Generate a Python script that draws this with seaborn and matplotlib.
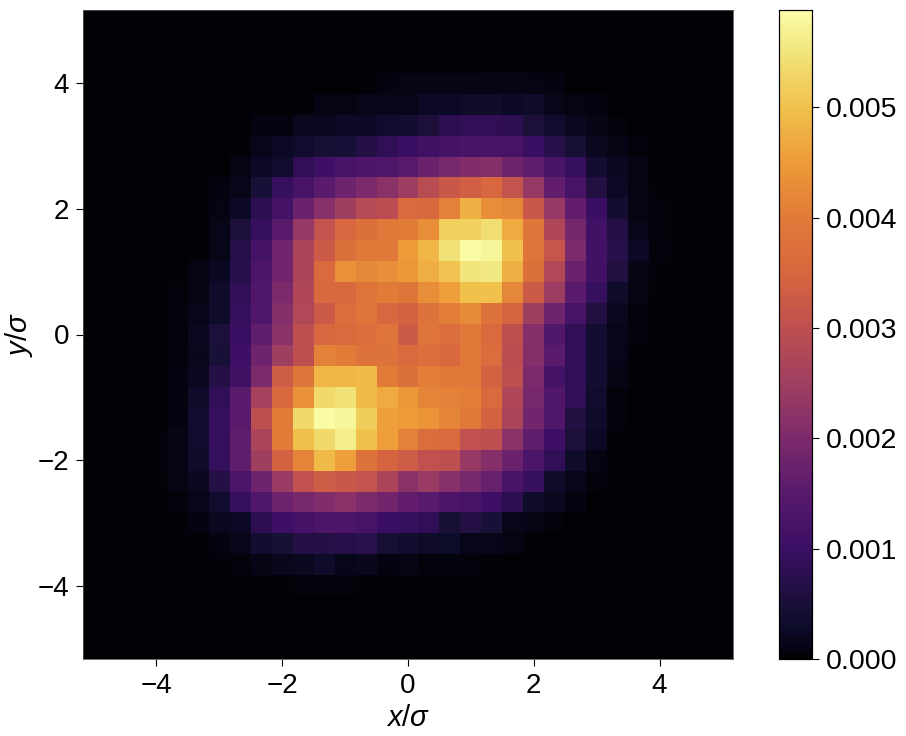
import numpy as np
import pandas as pd
import matplotlib
matplotlib.use('Agg')
import matplotlib.pyplot as plt
import seaborn as sns
from matplotlib.colors import LinearSegmentedColormap

# density per cell in units of 1e-3, rows listed from top (y=+5.17) to bottom
row_00 = [0]*31
row_01 = [0]*31
row_02 = [0]*19 + [.03, .03] + [0]*10
row_03 = [0]*14 + [.08, .12, .12, .12, .12, .12, .12, .1, .08] + [0]*8
row_04 = [0]*10 + [.03, .1, .1, .15, .15, .15, .25, .25, .3, .3, .25, .3, .15, .1, .08] + [0]*6
row_05 = [0]*8 + [.08, .08, .2, .2, .25, .25, .35, .4, .55, .8, .85, .85, .8, .55, .35, .2, .12, .06] + [0]*5
row_06 = [0]*7 + [.03, .15, .25, .35, .45, .5, .65, .85, 1.0, 1.1, 1.15, 1.25, 1.25, 1.2, 1.0, .7, .45, .2, .12, .05] + [0]*4
row_07 = [0]*7 + [.12, .25, .35, .85, 1.05, 1.25, 1.3, 1.35, 1.5, 1.75, 1.95, 2.05, 2.1, 1.8, 1.6, 1.25, .95, .4, .2, .1] + [0]*4
row_08 = [0]*6 + [.08, .15, .5, .95, 1.2, 1.55, 1.8, 2.0, 2.2, 2.45, 2.9, 3.2, 3.35, 3.5, 3.1, 2.35, 1.65, 1.2, .6, .25, .1, .04] + [0]*3
row_09 = [0]*6 + [.1, .25, .8, 1.15, 1.75, 2.15, 2.5, 2.85, 2.95, 3.6, 3.55, 4.1, 4.8, 4.3, 4.2, 3.2, 2.35, 1.65, 1.0, .4, .1, .05] + [0]*3
row_10 = [0]*5 + [.04, .15, .55, .95, 1.55, 2.35, 3.1, 3.5, 3.75, 3.95, 4.0, 4.3, 5.2, 5.2, 5.4, 4.7, 3.9, 2.75, 1.9, 1.1, .65, .15, .05] + [0]*3
row_11 = [0]*5 + [.04, .15, .7, 1.15, 1.85, 2.65, 3.25, 3.75, 3.95, 3.95, 4.5, 4.85, 5.45, 5.85, 5.75, 5.0, 3.85, 3.15, 2.0, 1.1, .7, .25, .05, .03] + [0]*2
row_12 = [0]*4 + [.02, .1, .22, .7, 1.3, 1.85, 2.7, 3.6, 4.35, 4.2, 4.3, 4.45, 4.75, 5.05, 5.5, 5.55, 4.75, 3.75, 2.8, 1.75, 1.1, .6, .12, .04] + [0]*3
row_13 = [0]*4 + [.05, .1, .3, .85, 1.35, 2.0, 2.75, 3.55, 3.55, 3.85, 4.0, 3.9, 4.3, 4.55, 5.0, 5.0, 4.2, 3.25, 2.45, 1.55, .95, .3, .1, .03] + [0]*3
row_14 = [0]*4 + [.06, .15, .3, .95, 1.35, 2.1, 2.8, 3.25, 3.65, 3.85, 3.5, 3.4, 3.8, 4.05, 4.25, 3.8, 3.45, 2.5, 1.8, 1.2, .6, .2, .06] + [0]*4
row_15 = [0]*4 + [.06, .2, .55, 1.0, 1.6, 2.2, 3.0, 3.5, 3.6, 3.7, 3.85, 3.25, 3.85, 3.7, 3.95, 3.6, 3.0, 2.1, 1.4, .85, .4, .15, .05] + [0]*4
row_16 = [0]*3 + [.03, .06, .18, .5, 1.05, 1.8, 2.5, 3.0, 4.1, 4.0, 3.8, 3.8, 3.6, 3.7, 3.55, 3.95, 3.65, 2.95, 2.1, 1.55, .85, .4, .15, .03] + [0]*4
row_17 = [0]*3 + [.03, .07, .2, .65, 1.1, 2.0, 3.3, 3.9, 4.85, 4.85, 4.9, 4.0, 3.75, 4.05, 3.95, 3.95, 3.4, 3.0, 2.0, 1.15, .85, .4, .12, .03] + [0]*4
row_18 = [0]*3 + [.04, .08, .3, .85, 1.55, 2.6, 3.55, 4.35, 5.35, 5.45, 4.9, 4.7, 4.45, 4.15, 4.1, 4.05, 3.6, 2.75, 1.95, 1.35, .85, .35, .05] + [0]*5
row_19 = [0]*3 + [.04, .08, .35, .95, 1.55, 3.0, 4.0, 5.35, 5.85, 5.75, 5.15, 4.55, 4.5, 4.4, 4.15, 3.95, 3.4, 2.65, 1.85, 1.4, .6, .3, .05] + [0]*5
row_20 = [0]*2 + [.01, .04, .12, .35, .95, 1.6, 2.7, 4.0, 5.0, 5.35, 5.65, 5.0, 4.55, 4.1, 3.65, 3.6, 3.05, 3.0, 2.2, 1.6, 1.05, .55, .25, .04] + [0]*5
row_21 = [0]*2 + [.01, .04, .12, .3, .9, 1.6, 2.5, 3.4, 4.15, 4.9, 4.55, 3.8, 3.45, 3.3, 3.05, 3.0, 2.35, 2.1, 1.75, 1.3, .85, .3, .1] + [0]*6
row_22 = [0]*3 + [.03, .1, .2, .65, 1.3, 1.8, 2.4, 3.05, 3.3, 3.2, 3.1, 2.7, 2.2, 2.4, 2.15, 1.95, 1.7, 1.25, .95, .3, .15, .05] + [0]*6
row_23 = [0]*3 + [.02, .06, .15, .35, .95, 1.35, 1.8, 1.95, 2.05, 2.2, 2.0, 1.85, 1.65, 1.5, 1.3, 1.25, 1.05, .8, .3, .2, .08] + [0]*7
row_24 = [0]*4 + [.04, .07, .2, .25, .8, 1.05, 1.15, 1.3, 1.3, 1.2, 1.0, .95, .85, .45, .65, .5, .15, .12, .06, .02] + [0]*7
row_25 = [0]*5 + [.04, .08, .15, .4, .45, .65, .65, .7, .75, .45, .38, .3, .28, .15, .15, .1] + [0]*10
row_26 = [0]*5 + [.01, .03, .05, .12, .18, .2, .3, .15, .18, .08, .13, .06, .05, .05, .03] + [0]*11
row_27 = [0]*8 + [.04, .04, .06, .05, .06, .04, .02, .03] + [0]*15
row_28 = [0]*10 + [.02] + [0]*20
row_29 = [0]*31
row_30 = [0]*31

rows = [row_00, row_01, row_02, row_03, row_04, row_05, row_06, row_07, row_08, row_09,
        row_10, row_11, row_12, row_13, row_14, row_15, row_16, row_17, row_18, row_19,
        row_20, row_21, row_22, row_23, row_24, row_25, row_26, row_27, row_28, row_29, row_30]
x_ticks = [-4, -2, 0, 2, 4]
y_ticks = [-4, -2, 0, 2, 4]
cbar_ticks = [0, 0.001, 0.002, 0.003, 0.004, 0.005]
half_width = 5.167
vmax = 0.00588

# colours sampled off the reference colorbar (inferno, slightly muted)
cbar_values = [0, 0.25, 0.5, 1.0, 1.5, 2.0, 2.5, 3.0, 3.5, 4.0, 4.5, 5.0, 5.5, 5.88]
cbar_colors = ['#010106', '#0c0a28', '#1a1038', '#3b0f64', '#581a6c', '#7d2a6c', '#a03f60', '#be4f50',
               '#d8663f', '#e07a38', '#ed9a38', '#f1c14c', '#f1e47a', '#fafda8']

cmap = LinearSegmentedColormap.from_list(
    'muted_inferno', [(v / cbar_values[-1], c) for v, c in zip(cbar_values, cbar_colors)], N=256)

df = pd.DataFrame(np.array(rows) * 1e-3)

plt.rcParams['font.family'] = ['Liberation Sans', 'DejaVu Sans']
plt.rcParams['mathtext.fontset'] = 'custom'
plt.rcParams['mathtext.it'] = 'Liberation Sans:italic'
plt.rcParams['mathtext.rm'] = 'Liberation Sans'

fig = plt.figure(figsize=(9.06, 7.36), dpi=100)
ax = fig.add_axes([83/906, 1 - 659/736, 650/906, 649/736])
cax = fig.add_axes([779/906, 1 - 659/736, 33/906, 649/736])

sns.heatmap(df, ax=ax, cbar_ax=cax, cmap=cmap, vmin=0, vmax=vmax, square=False,
            xticklabels=False, yticklabels=False, cbar_kws={'ticks': cbar_ticks})

# heatmap axes count cells, so convert x/sigma to cell position
to_cell = lambda v: (v + half_width) / (2 * half_width) * len(rows)
ax.set_xticks([to_cell(v) for v in x_ticks])
ax.set_yticks([to_cell(-v) for v in y_ticks])
ax.set_xticklabels([str(v).replace('-', '\u2212') for v in x_ticks])
ax.set_yticklabels([str(v).replace('-', '\u2212') for v in y_ticks], rotation=0)
ax.tick_params(labelsize=20, length=5, width=0.8, pad=5)
ax.set_xlabel(r'$x/\sigma$', fontsize=21, labelpad=4)
ax.set_ylabel(r'$y/\sigma$', fontsize=21, labelpad=2)
for s in ax.spines.values():
    s.set_visible(True)
    s.set_linewidth(0.6)
    s.set_color('#555555')

cax.set_yticklabels([f'{v:.3f}' for v in cbar_ticks])
cax.tick_params(labelsize=20.5, length=5, width=0.8, pad=5)
for s in cax.spines.values():
    s.set_visible(True)
    s.set_linewidth(0.8)
    s.set_color('black')

fig.savefig('out.png', dpi=100)
